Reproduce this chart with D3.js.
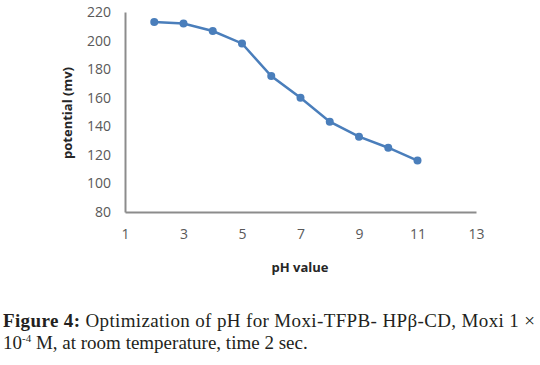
<!DOCTYPE html>
<html>
<head>
<meta charset="utf-8">
<script src="https://cdn.jsdelivr.net/npm/d3@7"></script>
<style>
  body { margin: 0; background: #fff; }
  .tick text { font-family: "Open Sans", sans-serif; font-size: 14px; fill: #595959; }
  .caption { font-family: "Liberation Serif", serif; font-size: 19px; fill: #231f20; }
</style>
</head>
<body>
<svg id="chart" width="540" height="365"></svg>
<script>
// values
const phValues = [2, 3, 4, 5, 6, 7, 8, 9, 10, 11];
const potential = [213, 212, 206.7, 198, 175.2, 160, 143.2, 132.7, 125, 116];
const xTicks = [1, 3, 5, 7, 9, 11, 13];
const yTicks = [80, 100, 120, 140, 160, 180, 200, 220];

const svg = d3.select("#chart");

const x = d3.scaleLinear().domain([1, 13]).range([125, 476]);
const y = d3.scaleLinear().domain([80, 220]).range([212, 12]);

// axes: only the baseline lines are drawn, ticks have no marks
const yAxis = svg.append("g")
    .attr("transform", "translate(125,0)")
    .call(d3.axisLeft(y).tickValues(yTicks).tickSize(0).tickPadding(14));
yAxis.select(".domain").attr("stroke", "#8c8c8c").attr("stroke-width", 2);

const xAxis = svg.append("g")
    .attr("transform", "translate(0,212)")
    .call(d3.axisBottom(x).tickValues(xTicks).tickSize(0).tickPadding(17));
xAxis.select(".domain").attr("stroke", "#8c8c8c").attr("stroke-width", 2);

// axis titles
svg.append("text")
    .attr("transform", "translate(72,113) rotate(-90)")
    .attr("text-anchor", "middle")
    .style("font-family", "'Open Sans', sans-serif")
    .style("font-size", "13px")
    .style("font-weight", "bold")
    .style("fill", "#262626")
    .text("potential (mv)");

svg.append("text")
    .attr("x", 300)
    .attr("y", 272)
    .attr("text-anchor", "middle")
    .style("font-family", "'Open Sans', sans-serif")
    .style("font-size", "13px")
    .style("font-weight", "bold")
    .style("fill", "#262626")
    .text("pH value");

// series
const pts = phValues.map((v, i) => [v, potential[i]]);

svg.append("path")
    .datum(pts)
    .attr("fill", "none")
    .attr("stroke", "#4a7ebb")
    .attr("stroke-width", 2.5)
    .attr("d", d3.line().x(d => x(d[0])).y(d => y(d[1])));

svg.selectAll(".dot")
    .data(pts)
    .enter().append("circle")
    .attr("class", "dot")
    .attr("cx", d => x(d[0]))
    .attr("cy", d => y(d[1]))
    .attr("r", 4)
    .attr("fill", "#4a7ebb");

// caption
const cap1 = svg.append("text").attr("class", "caption").attr("x", 3).attr("y", 327)
    .attr("textLength", 532).attr("lengthAdjust", "spacing");
cap1.append("tspan").style("font-weight", "bold").text("Figure 4:");
cap1.append("tspan").text(" Optimization of pH for Moxi-TFPB- HPβ-CD, Moxi 1 ×");

const cap2 = svg.append("text").attr("class", "caption").attr("x", 3).attr("y", 349);
cap2.append("tspan").text("10");
cap2.append("tspan").attr("dy", -7).style("font-size", "11px").text("-4");
cap2.append("tspan").attr("dy", 7).text(" M, at room temperature, time 2 sec.");
</script>
</body>
</html>
